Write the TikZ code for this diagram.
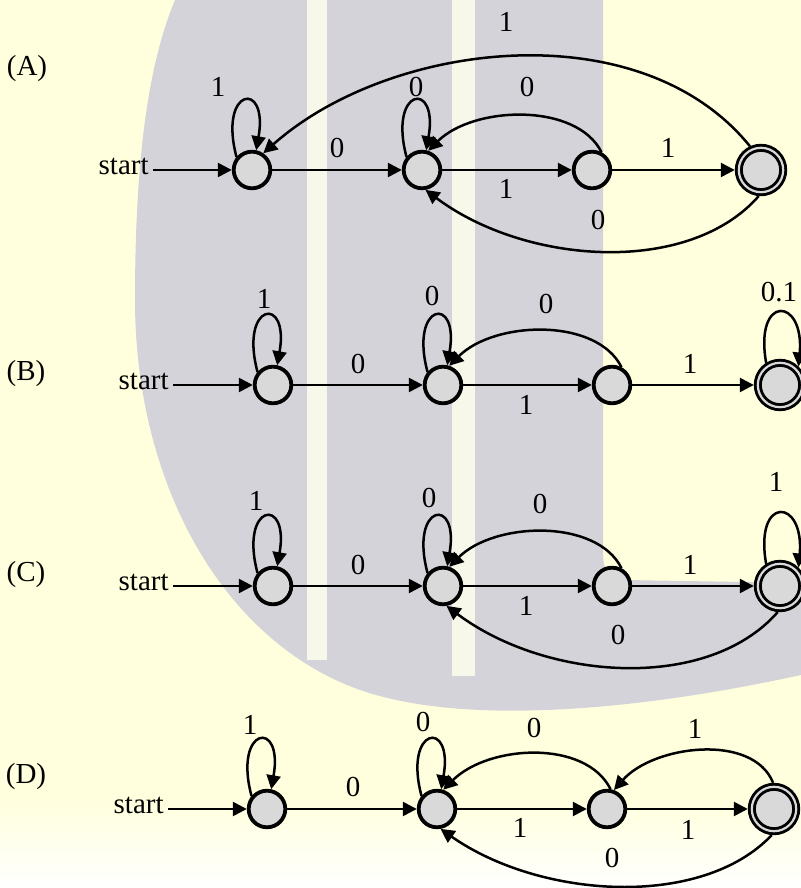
\documentclass[tikz,border=0pt]{standalone}
\usepackage{fontspec}
\setmainfont{Liberation Serif}
\usetikzlibrary{arrows.meta}
\definecolor{bgY}{RGB}{255,255,221}
\definecolor{wmG}{RGB}{211,211,217}
\definecolor{wmW}{RGB}{247,247,234}
\definecolor{stF}{RGB}{217,217,217}
\begin{document}
\begin{tikzpicture}[x=0.5pt,y=0.5pt,
  st/.style={circle, draw, line width=1.9pt, fill=stF, minimum size=18.3pt, inner sep=0pt, outer sep=0.95pt},
  acc/.style={circle, draw, line width=1.45pt, double=stF, double distance=1.1pt, fill=stF, minimum size=22.2pt, inner sep=0pt, outer sep=2pt},
  tr/.style={line width=1.25pt, -{Triangle[length=7pt,width=7pt]}},
  lb/.style={font=\fontsize{14.5}{16}\selectfont, inner sep=0pt},
  sl/.style={font=\fontsize{14.5}{16}\selectfont, inner sep=2pt, anchor=mid east}]
\useasboundingbox (0,0) rectangle (801,888);
% background and watermark
\fill[bgY] (0,0) rectangle (801,888);
\shade[top color=bgY, bottom color=white] (0,0) rectangle (801,90);
\fill[wmG] (175,888) .. controls (150,828) and (135,738) .. (135,588)
  .. controls (135,408) and (220,248) .. (360,198)
  .. controls (470,160) and (650,180) .. (801,213)
  -- (801,305) -- (625,308) .. controls (610,308) and (603,318) .. (603,333)
  -- (603,888) -- cycle;
\fill[wmW] (307,228) rectangle (327,888);
\fill[wmW] (452,212) rectangle (475,888);

% ---------------- (A)
\begin{scope}[shift={(0,718)}]
\node[lb] (labA) at (27,101) {(A)};
\node[sl] (sA) at (153,0) {start};
\node[st] (A1) at (252,0) {};
\node[st] (A2) at (422,0) {};
\node[st] (A3) at (592,0) {};
\node[acc] (A4) at (761,0) {};
\draw[tr] (sA.mid east) -- (A1);
\draw[tr] (A1) -- (A2);
\draw[tr] (A2) -- (A3);
\draw[tr] (A3) -- (A4);
\draw[tr] (A1.140) .. controls +(105:72) and +(80:72) .. (A1.78);
\draw[tr] (A2.140) .. controls +(105:72) and +(80:72) .. (A2.78);
\draw[tr] (A3.62) .. controls +(-25,50) and +(45,45) .. (A2.72);
\draw[tr] (A4.115) .. controls +(-110,136) and +(126,112) .. (A1.56);
\draw[tr] (A4.-95) .. controls +(-70,-80) and +(100,-75) .. (A2.-80);
\node[lb] (lA11) at (218,83) {1};
\node[lb] (lA22) at (416,83) {0};
\node[lb] (lA32) at (527,83) {0};
\node[lb] (lA41) at (506,148) {1};
\node[lb] (lA12) at (337,22) {0};
\node[lb] (lA23) at (506,-19) {1};
\node[lb] (lA34) at (668,22) {1};
\node[lb] (lA42) at (598,-50) {0};
\end{scope}

% ---------------- (B)
\begin{scope}[shift={(0,503)}]
\node[lb] (labB) at (26,11) {(B)};
\node[sl] (sB) at (173,0) {start};
\node[st] (B1) at (273,0) {};
\node[st] (B2) at (443,0) {};
\node[st] (B3) at (612,0) {};
\node[acc] (B4) at (780,0) {};
\draw[tr] (sB.mid east) -- (B1);
\draw[tr] (B1) -- (B2);
\draw[tr] (B2) -- (B3);
\draw[tr] (B3) -- (B4);
\draw[tr] (B1.140) .. controls +(105:72) and +(80:72) .. (B1.78);
\draw[tr] (B2.140) .. controls +(105:72) and +(80:72) .. (B2.78);
\draw[tr] (B4.122) .. controls +(100:70) and +(85:70) .. (B4.45);
\draw[tr] (B3.62) .. controls +(-25,50) and +(45,45) .. (B2.72);
\node[lb] (lB11) at (264,86) {1};
\node[lb] (lB22) at (432,89) {0};
\node[lb] (lB32) at (546,81) {0};
\node[lb] (lB44) at (779,93) {0.1};
\node[lb] (lB12) at (358,21) {0};
\node[lb] (lB23) at (526,-20) {1};
\node[lb] (lB34) at (690,21) {1};
\end{scope}

% ---------------- (C)
\begin{scope}[shift={(0,302)}]
\node[lb] (labC) at (26,11) {(C)};
\node[sl] (sC) at (173,0) {start};
\node[st] (C1) at (273,0) {};
\node[st] (C2) at (443,0) {};
\node[st] (C3) at (612,0) {};
\node[acc] (C4) at (780,0) {};
\draw[tr] (sC.mid east) -- (C1);
\draw[tr] (C1) -- (C2);
\draw[tr] (C2) -- (C3);
\draw[tr] (C3) -- (C4);
\draw[tr] (C1.140) .. controls +(105:72) and +(80:72) .. (C1.78);
\draw[tr] (C2.140) .. controls +(105:72) and +(80:72) .. (C2.78);
\draw[tr] (C4.122) .. controls +(100:70) and +(85:70) .. (C4.45);
\draw[tr] (C3.62) .. controls +(-25,50) and +(45,45) .. (C2.72);
\draw[tr] (C4.-95) .. controls +(-70,-80) and +(100,-75) .. (C2.-80);
\node[lb] (lC11) at (256,85) {1};
\node[lb] (lC22) at (429,88) {0};
\node[lb] (lC32) at (540,82) {0};
\node[lb] (lC44) at (776,104) {1};
\node[lb] (lC12) at (358,21) {0};
\node[lb] (lC23) at (526,-20) {1};
\node[lb] (lC34) at (690,21) {1};
\node[lb] (lC42) at (618,-49) {0};
\end{scope}

% ---------------- (D)
\begin{scope}[shift={(0,79)}]
\node[lb] (labD) at (26,32) {(D)};
\node[sl] (sD) at (168,0) {start};
\node[st] (D1) at (267,0) {};
\node[st] (D2) at (437,0) {};
\node[st] (D3) at (607,0) {};
\node[acc] (D4) at (774,0) {};
\draw[tr] (sD.mid east) -- (D1);
\draw[tr] (D1) -- (D2);
\draw[tr] (D2) -- (D3);
\draw[tr] (D3) -- (D4);
\draw[tr] (D1.140) .. controls +(105:72) and +(80:72) .. (D1.78);
\draw[tr] (D2.140) .. controls +(105:72) and +(80:72) .. (D2.78);
\draw[tr] (D3.80) .. controls +(-25,50) and +(45,45) .. (D2.72);
\draw[tr] (D4.92) .. controls +(-20,50) and +(40,45) .. (D3.70);
\draw[tr] (D4.-95) .. controls +(-70,-74) and +(100,-70) .. (D2.-80);
\node[lb] (lD11) at (250,84) {1};
\node[lb] (lD22) at (423,87) {0};
\node[lb] (lD32) at (534,81) {0};
\node[lb] (lD43) at (695,80) {1};
\node[lb] (lD12) at (353,22) {0};
\node[lb] (lD23) at (520,-19) {1};
\node[lb] (lD34) at (688,-21) {1};
\node[lb] (lD42) at (612,-49) {0};
\end{scope}
\end{tikzpicture}
\end{document}
